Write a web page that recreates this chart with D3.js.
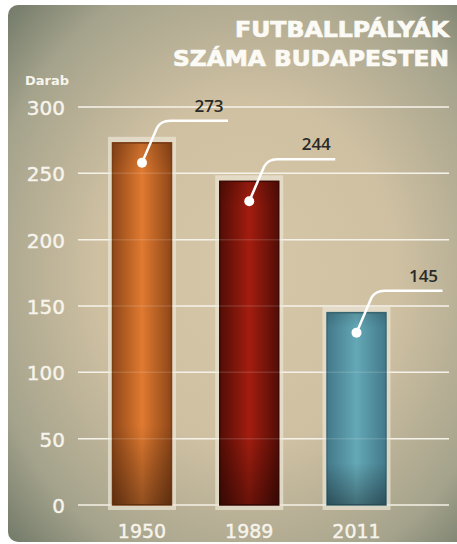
<!DOCTYPE html>
<html>
<head>
<meta charset="utf-8">
<script src="https://cdnjs.cloudflare.com/ajax/libs/d3/7.8.5/d3.min.js"></script>
<style>
  body { margin: 0; background: #fff; }
  svg { display: block; }
  text { font-family: "DejaVu Sans", sans-serif; }
</style>
</head>
<body>
<svg id="chart" width="457" height="544"></svg>
<script>
// data
var years = ["1950", "1989", "2011"];
var counts = [273, 244, 145];
var yTicks = [0, 50, 100, 150, 200, 250, 300];
var titleLines = ["FUTBALLPÁLYÁK", "SZÁMA BUDAPESTEN"];
var unitLabel = "Darab";
var barColors = [
  { dark: "#8e4718", light: "#e07a30", edge: "#7f3f15" },
  { dark: "#520d06", light: "#a31d0f", edge: "#420a04" },
  { dark: "#43798a", light: "#64a8b6", edge: "#3c6a75" }
];

var svg = d3.select("#chart");
var defs = svg.append("defs");

// background panel
var bg = defs.append("radialGradient")
  .attr("id", "bgGrad")
  .attr("cx", "0.52").attr("cy", "0.5").attr("r", "0.72");
bg.append("stop").attr("offset", "0%").attr("stop-color", "#d6c7a8");
bg.append("stop").attr("offset", "45%").attr("stop-color", "#cfc0a2");
bg.append("stop").attr("offset", "80%").attr("stop-color", "#a5a38c");
bg.append("stop").attr("offset", "100%").attr("stop-color", "#727a69");

svg.append("rect")
  .attr("x", 8).attr("y", 5)
  .attr("width", 462).attr("height", 537)
  .attr("rx", 10)
  .style("fill", "url(#bgGrad)");

// scales
var y = d3.scaleLinear().domain([0, 300]).range([505, 107]);
var x = d3.scalePoint().domain(years).range([142, 356.5]);
var barW = 59, frameW = 68;

// gridlines under bars
svg.append("g").selectAll("line")
  .data(yTicks)
  .enter().append("line")
  .attr("x1", 78).attr("x2", 449)
  .attr("y1", function(d) { return y(d); })
  .attr("y2", function(d) { return y(d); })
  .attr("stroke", "#f4f0e6")
  .attr("stroke-width", 1.5);

// y tick labels
svg.append("g").selectAll("text")
  .data(yTicks)
  .enter().append("text")
  .attr("x", 65)
  .attr("y", function(d) { return y(d) + 8; })
  .attr("text-anchor", "end")
  .attr("fill", "#f7f4ec")
  .attr("stroke", "#f7f4ec")
  .attr("stroke-width", 0.4)
  .style("font-size", "20px")
  .text(function(d) { return d; });

svg.append("text")
  .attr("x", 25).attr("y", 85)
  .attr("fill", "#f7f4ec")
  .style("font-size", "13px")
  .style("font-weight", "bold")
  .text(unitLabel);

// title, stretched to the width of the original lettering
var titleW = [214, 276];
svg.append("g").selectAll("text")
  .data(titleLines)
  .enter().append("text")
  .attr("x", function(d, i) { return 449 - titleW[i]; })
  .attr("y", function(d, i) { return 37 + i * 29; })
  .attr("textLength", function(d, i) { return titleW[i]; })
  .attr("lengthAdjust", "spacingAndGlyphs")
  .attr("fill", "#fbfaf5")
  .attr("stroke", "#fbfaf5")
  .attr("stroke-width", 0.7)
  .style("font-size", "21px")
  .style("font-weight", "bold")
  .text(function(d) { return d; });

// bar gradients
barColors.forEach(function(c, i) {
  var g = defs.append("linearGradient")
    .attr("id", "barGrad" + i)
    .attr("x1", "0%").attr("x2", "100%").attr("y1", "0%").attr("y2", "0%");
  g.append("stop").attr("offset", "0%").attr("stop-color", c.dark);
  g.append("stop").attr("offset", "50%").attr("stop-color", c.light);
  g.append("stop").attr("offset", "100%").attr("stop-color", c.dark);
});
var shade = defs.append("linearGradient")
  .attr("id", "shadeGrad")
  .attr("x1", "0%").attr("x2", "0%").attr("y1", "0%").attr("y2", "100%");
shade.append("stop").attr("offset", "0%").attr("stop-color", "#000").attr("stop-opacity", 0.12);
shade.append("stop").attr("offset", "8%").attr("stop-color", "#000").attr("stop-opacity", 0);
shade.append("stop").attr("offset", "78%").attr("stop-color", "#000").attr("stop-opacity", 0);
shade.append("stop").attr("offset", "100%").attr("stop-color", "#000").attr("stop-opacity", 0.35);

var data = years.map(function(yr, i) { return { year: yr, value: counts[i], i: i }; });

var bars = svg.append("g").selectAll("g")
  .data(data)
  .enter().append("g");

// light frame behind each bar
bars.append("rect")
  .attr("x", function(d) { return x(d.year) - frameW / 2; })
  .attr("y", function(d) { return y(d.value) - 6; })
  .attr("width", frameW)
  .attr("height", function(d) { return y(0) - y(d.value) + 11; })
  .attr("fill", "#ebe5d6")
  .attr("fill-opacity", 0.7);

bars.append("rect")
  .attr("x", function(d) { return x(d.year) - barW / 2; })
  .attr("y", function(d) { return y(d.value); })
  .attr("width", barW)
  .attr("height", function(d) { return y(0) - y(d.value); })
  .attr("fill", function(d) { return "url(#barGrad" + d.i + ")"; })
  .attr("stroke", function(d) { return barColors[d.i].edge; })
  .attr("stroke-width", 1.5);

bars.append("rect")
  .attr("x", function(d) { return x(d.year) - barW / 2; })
  .attr("y", function(d) { return y(d.value); })
  .attr("width", barW)
  .attr("height", function(d) { return y(0) - y(d.value); })
  .attr("fill", "url(#shadeGrad)");

// faint gridlines over the bars
svg.append("g").selectAll("line")
  .data(yTicks.filter(function(d) { return d > 0; }))
  .enter().append("line")
  .attr("x1", 78).attr("x2", 449)
  .attr("y1", function(d) { return y(d); })
  .attr("y2", function(d) { return y(d); })
  .attr("stroke", "#fff")
  .attr("stroke-opacity", 0.13)
  .attr("stroke-width", 1.5);

// category labels
svg.append("g").selectAll("text")
  .data(years)
  .enter().append("text")
  .attr("x", function(d) { return x(d); })
  .attr("y", 538)
  .attr("text-anchor", "middle")
  .attr("fill", "#f7f4ec")
  .attr("stroke", "#f7f4ec")
  .attr("stroke-width", 0.4)
  .style("font-size", "19px")
  .text(function(d) { return d; });

// callouts
var call = svg.append("g").selectAll("g")
  .data(data)
  .enter().append("g");

call.append("path")
  .attr("d", function(d) {
    var cx = x(d.year), top = y(d.value);
    var lineY = top - 22;
    return "M" + cx + "," + (top + 20) +
      " L" + (cx + 15) + "," + (lineY + 7) +
      " Q" + (cx + 19) + "," + lineY + " " + (cx + 28) + "," + lineY +
      " L" + (cx + 86) + "," + lineY;
  })
  .attr("fill", "none")
  .attr("stroke", "#fff")
  .attr("stroke-width", 2.5);

call.append("circle")
  .attr("cx", function(d) { return x(d.year); })
  .attr("cy", function(d) { return y(d.value) + 20; })
  .attr("r", 5)
  .attr("fill", "#fff");

call.append("text")
  .attr("x", function(d) { return x(d.year) + 67; })
  .attr("y", function(d) { return y(d.value) - 31; })
  .attr("text-anchor", "middle")
  .attr("fill", "#2a2a28")
  .style("font-family", "'Open Sans', sans-serif")
  .style("font-size", "17px")
  .style("font-weight", "600")
  .text(function(d) { return d.value; });
</script>
</body>
</html>
